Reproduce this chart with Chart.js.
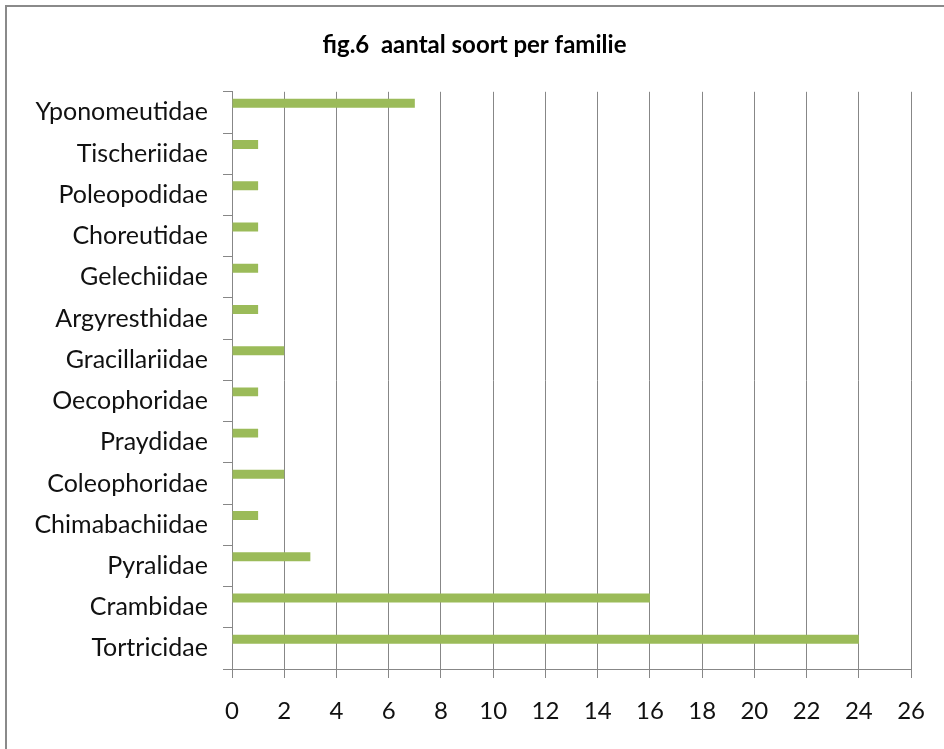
<!DOCTYPE html>
<html>
<head>
<meta charset="utf-8">
<script src="https://cdn.jsdelivr.net/npm/chart.js@4.4.0/dist/chart.umd.min.js"></script>
<style>
  html, body { margin: 0; padding: 0; background: #fff; overflow: hidden; }
  #wrap { position: relative; width: 944px; height: 749px; }
  #frame {
    position: absolute; left: 5px; top: 5px; width: 1000px; height: 1000px;
    border-left: 2px solid #8a8a8a; border-top: 2px solid #8a8a8a;
    pointer-events: none;
  }
</style>
</head>
<body>
<div id="wrap">
  <canvas id="myChart" width="944" height="749"></canvas>
  <div id="frame"></div>
</div>
<script>
const families = ['Yponomeutidae', 'Tischeriidae', 'Poleopodidae', 'Choreutidae', 'Gelechiidae',
    'Argyresthidae', 'Gracillariidae', 'Oecophoridae', 'Praydidae', 'Coleophoridae',
    'Chimabachiidae', 'Pyralidae', 'Crambidae', 'Tortricidae'];
const species = [7, 1, 1, 1, 1, 1, 2, 1, 1, 2, 1, 3, 16, 24];
const emptySeries = [null, null, null, null, null, null, null, null, null, null, null, null, null, null];
const xMin = 0;
const xMax = 26;
const xStep = 2;

const gridColor = '#878787';

const ctx = document.getElementById('myChart');

// the left padding only moves the title; give the y labels the room back so they aren't clipped
const labelRoom = {
    id: 'labelRoom',
    afterLayout(chart) {
        const s = chart.scales.y;
        s.left = 0;
        s.width = s.right;
    }
};

let chart = new Chart(ctx, {
    type: 'bar',
    data: {
        labels: families,
        datasets: [{
            label: 'aantal soort',
            data: species,
            backgroundColor: '#9BBB59',
            categoryPercentage: 0.886,
            barPercentage: 0.49
        },
        {
            label: '',
            data: emptySeries,
            backgroundColor: '#9BBB59',
            categoryPercentage: 0.886,
            barPercentage: 0.49
        }]
    },
    options: {
        indexAxis: 'y',
        responsive: false,
        animation: false,
        layout: { padding: { left: 37, right: 32, top: 0, bottom: 0 } },
        plugins: {
            legend: { display: false },
            tooltip: { enabled: false },
            title: {
                display: true,
                text: 'fig.6  aantal soort per familie',
                color: '#000',
                font: { family: 'Lato', size: 24, weight: 'bold' },
                padding: { top: 31, bottom: 32 }
            }
        },
        scales: {
            x: {
                min: xMin,
                max: xMax,
                ticks: { stepSize: xStep, color: '#111', font: { family: 'Lato', size: 24 }, padding: 19 },
                grid: { color: gridColor, tickLength: 9 },
                border: { color: gridColor },
                afterFit: (scale) => { scale.height = 80; }
            },
            y: {
                ticks: { color: '#111', font: { family: 'Lato', size: 25 }, padding: 15 },
                grid: { color: gridColor, drawOnChartArea: false, tickLength: 9 },
                border: { color: gridColor },
                afterFit: (scale) => { scale.width = 195; }
            }
        }
    },
    plugins: [labelRoom]
});
</script>
</body>
</html>
